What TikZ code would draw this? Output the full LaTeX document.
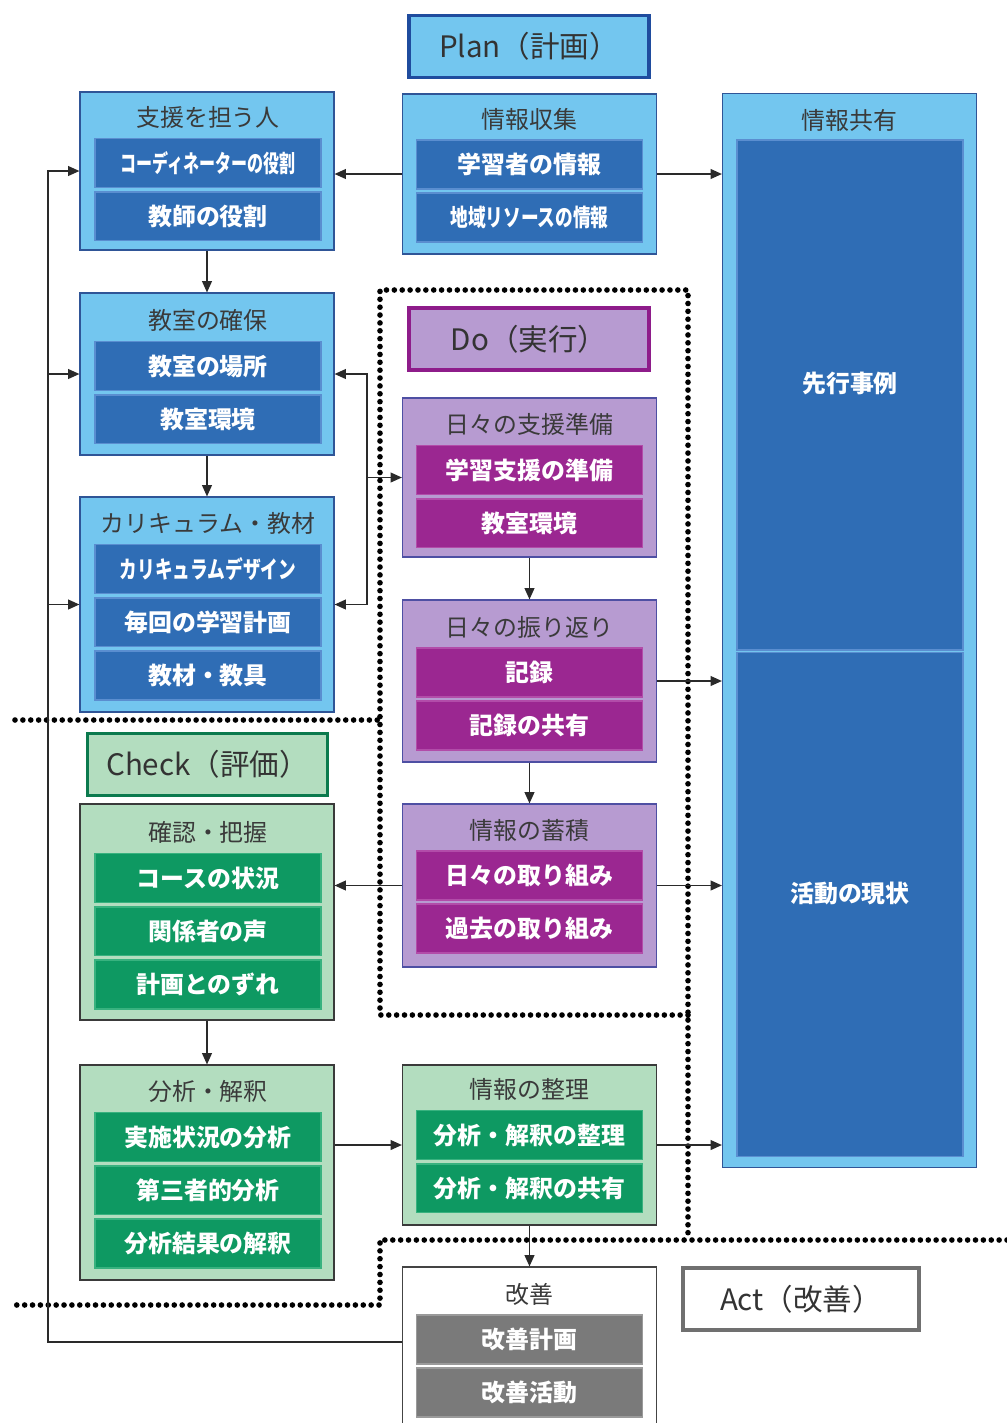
\documentclass[tikz,border=0pt]{standalone}
\usepackage{fontspec}
\usepackage{graphicx}
\setmainfont{Noto Sans CJK JP}
\usetikzlibrary{arrows.meta}

\definecolor{planfill}{HTML}{73C6EF}
\definecolor{plandraw}{HTML}{2F5597}
\definecolor{plandark}{HTML}{1F4C9E}
\definecolor{blueitem}{HTML}{2F6DB5}
\definecolor{blueedge}{HTML}{5A8ED0}
\definecolor{dofill}{HTML}{B79BD1}
\definecolor{dodraw}{HTML}{4E4FA3}
\definecolor{dodark}{HTML}{8E1C8A}
\definecolor{doitem}{HTML}{9B2791}
\definecolor{doedge}{HTML}{B24CA9}
\definecolor{checkfill}{HTML}{B3DDBF}
\definecolor{checkdraw}{HTML}{3A3A3A}
\definecolor{checkdark}{HTML}{0B7A4E}
\definecolor{checkitem}{HTML}{0E9962}
\definecolor{checkedge}{HTML}{38B27F}
\definecolor{actdraw}{HTML}{444444}
\definecolor{actlbl}{HTML}{707070}
\definecolor{actitem}{HTML}{7A7A7A}
\definecolor{actedge}{HTML}{9A9A9A}
\definecolor{titlegray}{HTML}{3A3A3A}
\definecolor{linegray}{HTML}{2A2A2A}

\newcommand{\itemfont}{\fontsize{17}{20}\selectfont\bfseries}
\newcommand{\ttlfont}{\fontsize{17}{20}\selectfont}
\newcommand{\lblfont}{\fontsize{21}{25}\selectfont}

\begin{document}
\begin{tikzpicture}[x=0.025cm,y=-0.025cm,node distance=1.33cm,>={Triangle[length=8pt,width=7pt]}]
\tikzstyle{grp}=[rectangle, minimum width=6.35cm, line width=0.8pt, inner sep=0pt]
\tikzstyle{pgrp}=[grp, fill=planfill, draw=plandraw]
\tikzstyle{dgrp}=[grp, fill=dofill, draw=dodraw]
\tikzstyle{cgrp}=[grp, fill=checkfill, draw=checkdraw]
\tikzstyle{agrp}=[grp, fill=white, draw=actdraw]
\tikzstyle{item}=[rectangle, minimum width=5.65cm, minimum height=1.22cm, line width=1.2pt, inner sep=0pt, text=white, font=\itemfont]
\tikzstyle{pit}=[item, fill=blueitem, draw=blueedge]
\tikzstyle{dit}=[item, fill=doitem, draw=doedge]
\tikzstyle{cit}=[item, fill=checkitem, draw=checkedge]
\tikzstyle{ait}=[item, fill=actitem, draw=actedge]
\tikzstyle{ttl}=[text=titlegray, font=\ttlfont, yshift=-0.2cm]
\tikzstyle{lbl}=[rectangle, minimum width=6cm, minimum height=1.55cm, line width=2.5pt, font=\lblfont, text=black!80]
\tikzstyle{arr}=[->, line width=0.9pt, draw=linegray]
\tikzstyle{dotline}=[line width=4pt, dash pattern=on 0pt off 5.6pt, line cap=round]
\useasboundingbox (0,0) rectangle (1007,1423);

% group boxes
\node (a1) [pgrp, minimum height=3.95cm] at (207,171) {};
\node (b1) [pgrp, minimum height=4cm] at (529.5,174) {};
\node (info) [pgrp, minimum height=26.825cm] at (849.5,630.5) {};
\node (a2) [pgrp, minimum height=4.05cm] at (207,374) {};
\node (a3) [pgrp, minimum height=5.375cm] at (207,604.5) {};
\node (d1) [dgrp, minimum height=3.975cm] at (529.5,477.5) {};
\node (d2) [dgrp, minimum height=4.05cm] at (529.5,681) {};
\node (d3) [dgrp, minimum height=4.075cm] at (529.5,885.5) {};
\node (c1) [cgrp, minimum height=5.4cm] at (207,912) {};
\node (c2) [cgrp, minimum height=5.375cm] at (207,1172.5) {};
\node (c3) [cgrp, minimum height=4cm] at (529.5,1145) {};
\node (e1) [agrp, minimum height=4.1cm] at (529.5,1349) {};

% phase labels
\node (plan) [lbl, draw=plandark, fill=planfill] at (529,46.5) {Plan（計画）};
\node (do) [lbl, draw=dodark, fill=dofill] at (529,339) {Do（実行）};
\node (check) [lbl, draw=checkdark, fill=checkfill] at (207.5,764.5) {Check（評価）};
\node (act) [lbl, minimum width=5.9cm, draw=actlbl, fill=white] at (801,1299) {Act（改善）};

% Plan
\node (a11) [pit] at (208,163) {\scalebox{0.67}[1]{コーディネーターの役割}};
\node (a12) [pit, below of=a11] {教師の役割};
\node (a1t) [ttl, above of=a11] {支援を担う人};
\node (b11) [pit] at (529.5,164.5) {学習者の情報};
\node (b12) [pit, below of=b11] {\scalebox{0.74}[1]{地域リソースの情報}};
\node (b1t) [ttl, above of=b11] {情報収集};
\node (a21) [pit] at (208,366) {教室の場所};
\node (a22) [pit, below of=a21] {教室環境};
\node (a2t) [ttl, above of=a21] {教室の確保};
\node (a31) [pit] at (208,569) {\scalebox{0.74}[1]{カリキュラムデザイン}};
\node (a32) [pit, below of=a31] {毎回の学習計画};
\node (a33) [pit, below of=a32] {教材・教具};
\node (a3t) [ttl, above of=a31] {カリキュラム・教材};
\node (info1) [pit, minimum height=12.75cm] at (850,395) {};
\node (info2) [pit, minimum height=12.6cm] at (850,904.5) {};
\node (info1x) [text=white, font=\itemfont] at (850,383) {先行事例};
\node (info2x) [text=white, font=\itemfont] at (850,893) {活動の現状};
\node (infot) [text=titlegray, font=\ttlfont] at (849.5,120) {情報共有};

% Do
\node (d11) [dit] at (529.5,470) {学習支援の準備};
\node (d12) [dit, below of=d11] {教室環境};
\node (d1t) [ttl, above of=d11] {日々の支援準備};
\node (d21) [dit] at (529.5,672.5) {記録};
\node (d22) [dit, below of=d21] {記録の共有};
\node (d2t) [ttl, above of=d21] {日々の振り返り};
\node (d31) [dit] at (529.5,875.5) {日々の取り組み};
\node (d32) [dit, below of=d31] {過去の取り組み};
\node (d3t) [ttl, above of=d31] {情報の蓄積};

% Check
\node (c11) [cit] at (208,878) {コースの状況};
\node (c12) [cit, below of=c11] {関係者の声};
\node (c13) [cit, below of=c12] {計画とのずれ};
\node (c1t) [ttl, above of=c11] {確認・把握};
\node (c21) [cit] at (208,1137) {実施状況の分析};
\node (c22) [cit, below of=c21] {第三者的分析};
\node (c23) [cit, below of=c22] {分析結果の解釈};
\node (c2t) [ttl, above of=c21] {分析・解釈};
\node (c31) [cit] at (529.5,1135) {分析・解釈の整理};
\node (c32) [cit, below of=c31] {分析・解釈の共有};
\node (c3t) [ttl, above of=c31] {情報の整理};

% Act
\node (e11) [ait] at (529.5,1339.5) {改善計画};
\node (e12) [ait, below of=e11] {改善活動};
\node (e1t) [ttl, above of=e11] {改善};

% phase borders
\draw[dotline] (15,720) -- (380,720);
\draw[dotline] (688,1015) -- (380,1015) -- (380,290) -- (688,290) -- (688,1240);
\draw[dotline] (1007,1240) -- (380,1240) -- (380,1305) -- (10,1305);

% connectors
\coordinate (brk) at (367,477.5);
\coordinate (back) at (48,1342);
\draw[arr] (b1.west) -- (b1.west -| a1.east);
\draw[arr] (b1.east) -- (b1.east -| info.west);
\draw[arr] (a1) -- (a2);
\draw[arr] (a2) -- (a3);
\draw[arr, <->] (a2.east) -| (brk) |- (a3.east);
\draw[arr] (brk) -- (d1.west);
\draw[arr] (d1) -- (d2);
\draw[arr] (d2) -- (d3);
\draw[arr] (d2.east) -- (d2.east -| info.west);
\draw[arr] (d3.east) -- (d3.east -| info.west);
\draw[arr] (d3.west) -- (d3.west -| c1.east);
\draw[arr] (c1) -- (c2);
\draw[arr] (c3.west -| c2.east) -- (c3.west);
\draw[arr] (c3.east) -- (c3.east -| info.west);
\draw[arr] (c3) -- (e1);
\draw[arr] (e1.west |- back) -- (back) |- (a1.west);
\draw[arr] (back |- a2.west) -- (a2.west);
\draw[arr] (back |- a3.west) -- (a3.west);
\end{tikzpicture}
\end{document}
